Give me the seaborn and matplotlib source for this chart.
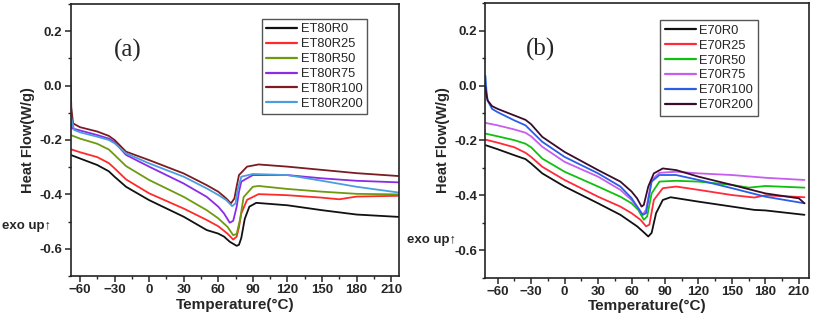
import numpy as np
import pandas as pd
import matplotlib
matplotlib.use("Agg")
import matplotlib.pyplot as plt
import seaborn as sns
from matplotlib.ticker import MultipleLocator

# ---- panel (a): ET80 series ----
a_names = ["ET80R0", "ET80R25", "ET80R50", "ET80R75", "ET80R100", "ET80R200"]
a_colors = ["#111111", "#ff2a2a", "#6e9a10", "#8a2be8", "#7a1c22", "#4a9ee0"]

a_t_r0 = [-68, -60, -45, -35, -30, -20, 0, 30, 50, 60, 65, 70, 76, 78, 80, 83, 87, 93, 120, 150, 180, 218]
a_v_r0 = [-0.255, -0.268, -0.292, -0.315, -0.335, -0.372, -0.421, -0.482, -0.531, -0.544, -0.555, -0.574,
          -0.589, -0.585, -0.560, -0.490, -0.445, -0.431, -0.440, -0.458, -0.474, -0.483]
a_t_r25 = [-68, -60, -45, -35, -30, -20, 0, 30, 50, 60, 68, 73, 76, 78, 80, 85, 95, 120, 150, 165, 180, 218]
a_v_r25 = [-0.234, -0.245, -0.263, -0.285, -0.304, -0.345, -0.396, -0.452, -0.494, -0.517, -0.544, -0.566,
           -0.555, -0.520, -0.470, -0.420, -0.399, -0.403, -0.412, -0.418, -0.408, -0.405]
a_t_r50 = [-68, -60, -45, -35, -30, -20, 0, 30, 50, 60, 68, 73, 76, 79, 82, 90, 95, 120, 150, 180, 218]
a_v_r50 = [-0.182, -0.195, -0.214, -0.235, -0.255, -0.296, -0.347, -0.409, -0.458, -0.488, -0.519, -0.550,
           -0.545, -0.490, -0.410, -0.372, -0.369, -0.380, -0.390, -0.398, -0.400]
a_t_r75 = [-69, -68.5, -68, -67, -60, -45, -35, -30, -20, 0, 30, 50, 60, 65, 70, 73, 76, 78, 80, 90, 120, 150, 180, 218]
a_v_r75 = [-0.160, 0.005, -0.080, -0.157, -0.165, -0.182, -0.195, -0.208, -0.255, -0.298, -0.360, -0.409,
           -0.445, -0.470, -0.504, -0.497, -0.445, -0.390, -0.353, -0.329, -0.329, -0.341, -0.350, -0.356]
a_t_r100 = [-69, -68.5, -67.5, -66, -60, -45, -35, -30, -20, 0, 30, 50, 60, 67, 71, 74, 76, 78, 85, 95, 120, 150, 180, 218]
a_v_r100 = [0.113, 0.060, -0.080, -0.139, -0.153, -0.169, -0.185, -0.200, -0.243, -0.274, -0.323, -0.366,
            -0.390, -0.415, -0.433, -0.415, -0.370, -0.329, -0.298, -0.290, -0.298, -0.310, -0.322, -0.333]
a_t_r200 = [-69, -68.5, -67.5, -65, -60, -45, -35, -30, -20, 0, 30, 50, 60, 67, 72, 75, 77, 80, 90, 120, 150, 180, 218]
a_v_r200 = [0.050, -0.020, -0.120, -0.163, -0.172, -0.188, -0.200, -0.212, -0.249, -0.286, -0.335, -0.378,
            -0.402, -0.421, -0.443, -0.433, -0.380, -0.335, -0.325, -0.329, -0.350, -0.372, -0.394]

# ---- panel (b): E70 series ----
b_names = ["E70R0", "E70R25", "E70R50", "E70R75", "E70R100", "E70R200"]
b_colors = ["#111111", "#ff2a3a", "#10c010", "#c85cf0", "#2a5ee8", "#3a0c2c"]

b_t_r0 = [-71, -60, -45, -35, -30, -20, 0, 30, 50, 60, 65, 70, 75, 78, 82, 88, 95, 120, 150, 170, 180, 215]
b_v_r0 = [-0.217, -0.232, -0.254, -0.268, -0.284, -0.320, -0.368, -0.429, -0.471, -0.499, -0.513, -0.531,
          -0.550, -0.537, -0.465, -0.417, -0.407, -0.423, -0.441, -0.453, -0.455, -0.471]
b_t_r25 = [-71, -60, -45, -35, -30, -20, 0, 30, 50, 60, 68, 73, 76, 80, 88, 100, 120, 150, 170, 180, 215]
b_v_r25 = [-0.197, -0.208, -0.225, -0.245, -0.260, -0.296, -0.344, -0.405, -0.441, -0.465, -0.489, -0.513,
           -0.507, -0.417, -0.374, -0.368, -0.380, -0.399, -0.408, -0.400, -0.407]
b_t_r50 = [-71, -60, -45, -35, -30, -20, 0, 30, 50, 60, 66, 71, 74, 78, 85, 100, 120, 150, 165, 180, 215]
b_v_r50 = [-0.175, -0.185, -0.199, -0.212, -0.225, -0.266, -0.314, -0.368, -0.405, -0.429, -0.453, -0.489,
           -0.477, -0.393, -0.350, -0.347, -0.350, -0.362, -0.372, -0.366, -0.372]
b_t_r75 = [-71, -60, -45, -35, -30, -20, 0, 30, 50, 60, 66, 70, 73, 78, 85, 100, 120, 150, 180, 215]
b_v_r75 = [-0.136, -0.145, -0.160, -0.172, -0.185, -0.223, -0.278, -0.332, -0.380, -0.417, -0.447, -0.471,
           -0.453, -0.344, -0.318, -0.314, -0.320, -0.326, -0.336, -0.344]
b_t_r100 = [-71, -70, -69, -65, -60, -45, -35, -30, -20, 0, 30, 50, 60, 66, 70, 73, 78, 85, 100, 120, 150, 180, 215]
b_v_r100 = [0.036, -0.020, -0.054, -0.085, -0.097, -0.127, -0.145, -0.165, -0.205, -0.260, -0.320, -0.368,
            -0.410, -0.447, -0.471, -0.465, -0.350, -0.326, -0.326, -0.344, -0.374, -0.405, -0.429]
b_t_r200 = [-71, -70, -69, -65, -60, -45, -35, -30, -20, 0, 30, 50, 60, 65, 69, 71, 75, 80, 88, 100, 120, 150, 180, 210, 215]
b_v_r200 = [-0.006, -0.035, -0.054, -0.075, -0.085, -0.109, -0.125, -0.141, -0.187, -0.242, -0.308, -0.350,
            -0.386, -0.411, -0.441, -0.435, -0.368, -0.320, -0.302, -0.308, -0.332, -0.362, -0.393, -0.411, -0.429]

x_ticks = [-60, -30, 0, 30, 60, 90, 120, 150, 180, 210]
y_ticks = [-0.6, -0.4, -0.2, 0.0, 0.2]


def long_frame(names, ts, vs):
    parts = []
    for name, t, v in zip(names, ts, vs):
        parts.append(pd.DataFrame({"T": t, "V": v, "sample": name}))
    return pd.concat(parts, ignore_index=True)


df_a = long_frame(a_names, [a_t_r0, a_t_r25, a_t_r50, a_t_r75, a_t_r100, a_t_r200],
                  [a_v_r0, a_v_r25, a_v_r50, a_v_r75, a_v_r100, a_v_r200])
df_b = long_frame(b_names, [b_t_r0, b_t_r25, b_t_r50, b_t_r75, b_t_r100, b_t_r200],
                  [b_v_r0, b_v_r25, b_v_r50, b_v_r75, b_v_r100, b_v_r200])

sns.set_style("ticks")
plt.rcParams['font.family'] = ['Liberation Sans', 'DejaVu Sans']

fig = plt.figure(figsize=(8.13, 3.21), dpi=100)
ax_a = fig.add_axes([0.087, 0.140, 0.404, 0.848])
ax_b = fig.add_axes([0.597, 0.135, 0.398, 0.855])


def style_panel(ax, df, names, colors, xlim, tag, tag_pos, leg_anchor):
    sns.lineplot(data=df, x="T", y="V", hue="sample", hue_order=names,
                 palette=colors, sort=False, estimator=None, linewidth=1.3, ax=ax)
    ax.set_xlim(*xlim)
    ax.set_ylim(-0.7, 0.3)
    ax.set_xticks(x_ticks)
    ax.set_yticks(y_ticks)
    ax.set_yticklabels([f"{v:.1f}" for v in y_ticks])
    ax.xaxis.set_minor_locator(MultipleLocator(15))
    ax.yaxis.set_minor_locator(MultipleLocator(0.1))
    ax.tick_params(which="major", direction="out", length=4, width=1.1,
                   labelsize=9.5, pad=2)
    ax.tick_params(which="minor", direction="out", length=2.5, width=1.0)
    for lab in ax.get_xticklabels() + ax.get_yticklabels():
        lab.set_fontweight("bold")
    for sp in ax.spines.values():
        sp.set_visible(True)
        sp.set_linewidth(1.2)
        sp.set_color("#222222")
    ax.set_xlabel("Temperature(\u00b0C)", fontsize=11, fontweight="bold", labelpad=1)
    ax.set_ylabel("Heat Flow(W/g)", fontsize=10.5, fontweight="bold", labelpad=3)
    ax.text(tag_pos[0], tag_pos[1], tag, fontsize=18, family="Liberation Serif",
            ha="center", va="center", transform=ax.transAxes)
    leg = ax.legend(loc="upper right", bbox_to_anchor=leg_anchor, fontsize=9.3,
                    frameon=True, fancybox=False, edgecolor="#555555", framealpha=1,
                    handlelength=2.4, handletextpad=0.3, labelspacing=0.22,
                    borderpad=0.35, borderaxespad=0.0)
    leg.get_frame().set_linewidth(1.0)
    for line in leg.get_lines():
        line.set_linewidth(1.6)


style_panel(ax_a, df_a, a_names, a_colors, (-68, 217), "(a)", (0.175, 0.83), (0.903, 0.945))
style_panel(ax_b, df_b, b_names, b_colors, (-71, 219), "(b)", (0.17, 0.83), (0.842, 0.938))

fig.text(0.002, 0.295, "exo up\u2191", fontsize=9.5, fontweight="bold", ha="left", va="center")
fig.text(0.500, 0.252, "exo up\u2191", fontsize=9.5, fontweight="bold", ha="left", va="center")

fig.savefig("out.png", dpi=100)
